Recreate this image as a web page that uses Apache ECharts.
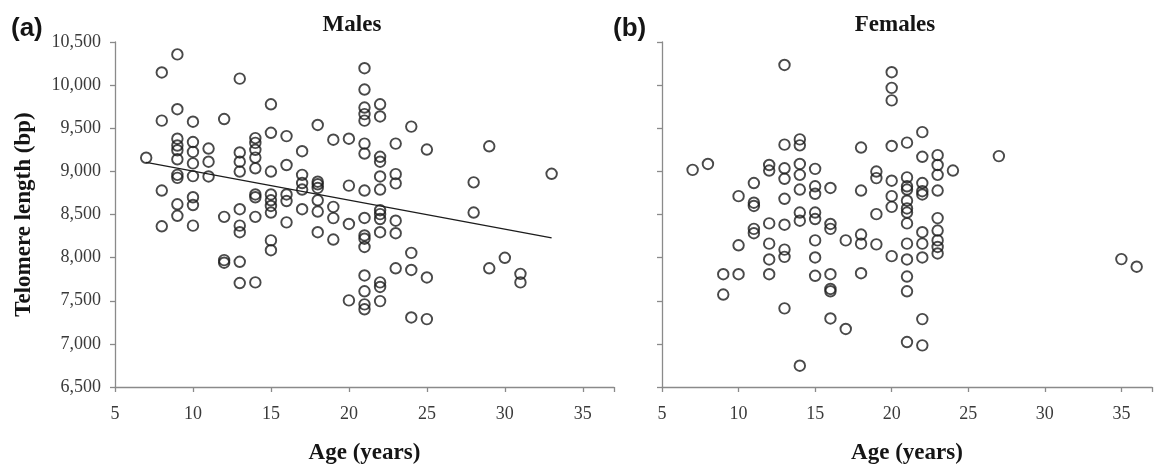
<!DOCTYPE html>
<html>
<head>
<meta charset="utf-8">
<title>Telomere length vs age</title>
<script src="https://cdn.jsdelivr.net/npm/echarts@6/dist/echarts.min.js"></script>
<style>
  html, body { margin: 0; padding: 0; background: #fff; }
  #chart { width: 1155px; height: 470px; }
</style>
</head>
<body>
<div id="chart"></div>
<script>
// one column of telomere lengths (bp) for each age (years)
const maleAges = [7, 8, 9, 10, 11, 12, 13, 14, 15, 16, 17, 18, 19, 20, 21, 22, 23, 24, 25, 28, 29, 30, 31, 33]
const maleTL = [
  [9158],
  [10147, 9588, 8778, 8363],
  [10356, 9721, 9379, 9300, 9245, 9140, 8960, 8925, 8618, 8485],
  [9576, 9340, 9226, 9093, 8945, 8700, 8610, 8371],
  [9265, 9112, 8941],
  [9607, 8473, 7971, 7941],
  [10075, 9219, 9112, 8998, 8561, 8371, 8295, 7952, 7705],
  [9386, 9330, 9250, 9160, 9036, 8732, 8700, 8473, 7713],
  [9778, 9447, 8998, 8732, 8665, 8599, 8523, 8200, 8086],
  [9409, 9074, 8732, 8656, 8409],
  [9234, 8960, 8865, 8789, 8561],
  [9538, 8880, 8850, 8808, 8665, 8534, 8295],
  [9367, 8588, 8458, 8210],
  [9379, 8835, 8390, 7504],
  [10196, 9949, 9740, 9664, 9588, 9322, 9207, 8778, 8460, 8257, 8219, 8124, 7793, 7610, 7458, 7401],
  [9778, 9637, 9169, 9112, 8941, 8789, 8550, 8504, 8447, 8295, 7713, 7660, 7496],
  [9322, 8968, 8861, 8428, 8283, 7876],
  [9519, 8055, 7857, 7306],
  [9253, 7770, 7287],
  [8873, 8523],
  [9291, 7876],
  [7998],
  [7812, 7713],
  [8972]
]

const femaleAges = [7, 8, 9, 10, 11, 12, 13, 14, 15, 16, 17, 18, 19, 20, 21, 22, 23, 24, 27, 35, 36]
const femaleTL = [
  [9017],
  [9086],
  [7808, 7572],
  [8713, 8143, 7808],
  [8865, 8637, 8599, 8333, 8283],
  [9074, 9010, 8397, 8162, 7979, 7808],
  [10234, 9310, 9036, 8914, 8682, 8382, 8093, 8009, 7412],
  [9371, 9302, 9086, 8960, 8789, 8523, 8428, 6747],
  [9029, 8827, 8740, 8523, 8447, 8200, 8002, 7789],
  [8808, 8390, 8333, 7808, 7637, 7610, 7295],
  [8200, 7173],
  [9276, 8778, 8268, 8162, 7819],
  [8998, 8922, 8504, 8154],
  [10150, 9968, 9823, 9295, 8892, 8713, 8588, 8017],
  [9333, 8930, 8827, 8789, 8660, 8570, 8523, 8397, 8162, 7979, 7781, 7610, 7021],
  [9455, 9169, 8865, 8770, 8732, 8295, 8162, 8002, 7287, 6983],
  [9188, 9074, 8960, 8778, 8458, 8314, 8200, 8124, 8048],
  [9010],
  [9177],
  [7983],
  [7895]
]

// regression line for males, drawn between its two end points
const trendAge = [7, 33]
const trendTL = [9105, 8228]

const xTicks = [5, 10, 15, 20, 25, 30, 35]
const yTicks = [6500, 7000, 7500, 8000, 8500, 9000, 9500, 10000, 10500]
const panelTitles = ['Males', 'Females']
const panelTags = ['(a)', '(b)']

function toPoints(ages, groups) {
  let out = []
  ages.forEach((age, i) => {
    groups[i].forEach((v) => out.push([age, v]))
  })
  return out
}

const serif = 'Liberation Serif'
const axisColor = '#8a8a8a'
const inkColor = '#1c1c1c'

function makeX(idx) {
  return {
    type: 'value',
    gridIndex: idx,
    min: xTicks[0],
    max: 37,
    interval: xTicks[1] - xTicks[0],
    name: 'Age (years)',
    nameLocation: 'middle',
    nameGap: 55,
    nameTextStyle: { fontFamily: serif, fontWeight: 'bold', fontSize: 23, color: '#151515' },
    axisLine: { show: true, lineStyle: { color: axisColor, width: 1.3 } },
    axisTick: { show: true, inside: false, length: 5, lineStyle: { color: axisColor, width: 1.3 } },
    axisLabel: {
      fontFamily: serif,
      fontSize: 18,
      color: '#3a3a3a',
      margin: 18,
      formatter: (v) => (xTicks.indexOf(v) >= 0 ? String(v) : '')
    },
    splitLine: { show: false }
  }
}

function makeY(idx, withLabels) {
  return {
    type: 'value',
    gridIndex: idx,
    min: yTicks[0],
    max: yTicks[yTicks.length - 1],
    interval: yTicks[1] - yTicks[0],
    name: withLabels ? 'Telomere length (bp)' : '',
    nameLocation: 'middle',
    nameGap: 79,
    nameTextStyle: { fontFamily: serif, fontWeight: 'bold', fontSize: 23, color: '#151515' },
    axisLine: { show: true, lineStyle: { color: axisColor, width: 1.3 } },
    axisTick: { show: true, inside: false, length: 5, lineStyle: { color: axisColor, width: 1.3 } },
    axisLabel: {
      show: withLabels,
      fontFamily: serif,
      fontSize: 18,
      color: '#3a3a3a',
      margin: 14,
      formatter: (v) => v.toLocaleString('en-US')
    },
    splitLine: { show: false }
  }
}

const dotStyle = {
  color: 'rgba(0,0,0,0)',
  borderColor: inkColor,
  borderWidth: 1.9
}

const titleFont = { fontFamily: serif, fontWeight: 'bold', fontSize: 23, color: '#151515' }
const tagFont = { fontFamily: 'Liberation Sans', fontWeight: 'bold', fontSize: 26, color: '#151515' }

const chart = echarts.init(document.getElementById('chart'))
chart.setOption({
  animation: false,
  backgroundColor: '#fff',
  title: [
    { text: panelTags[0], left: 11, top: 16, padding: 0, textStyle: tagFont },
    { text: panelTags[1], left: 613, top: 16, padding: 0, textStyle: tagFont },
    { text: panelTitles[0], left: 352, top: 14, padding: 0, textAlign: 'center', textStyle: titleFont },
    { text: panelTitles[1], left: 895, top: 14, padding: 0, textAlign: 'center', textStyle: titleFont }
  ],
  grid: [
    { left: 115, top: 42, width: 499, height: 350 },
    { left: 662, top: 42, width: 499, height: 350 }
  ],
  xAxis: [makeX(0), makeX(1)],
  yAxis: [makeY(0, true), makeY(1, false)],
  series: [
    {
      type: 'scatter',
      xAxisIndex: 0,
      yAxisIndex: 0,
      symbol: 'circle',
      symbolSize: 10.5,
      itemStyle: dotStyle,
      emphasis: { disabled: true },
      data: toPoints(maleAges, maleTL)
    },
    {
      type: 'line',
      xAxisIndex: 0,
      yAxisIndex: 0,
      symbol: 'none',
      lineStyle: { color: inkColor, width: 1.3 },
      emphasis: { disabled: true },
      data: trendAge.map((a, i) => [a, trendTL[i]])
    },
    {
      type: 'scatter',
      xAxisIndex: 1,
      yAxisIndex: 1,
      symbol: 'circle',
      symbolSize: 10.5,
      itemStyle: dotStyle,
      emphasis: { disabled: true },
      data: toPoints(femaleAges, femaleTL)
    }
  ]
})
</script>
</body>
</html>
